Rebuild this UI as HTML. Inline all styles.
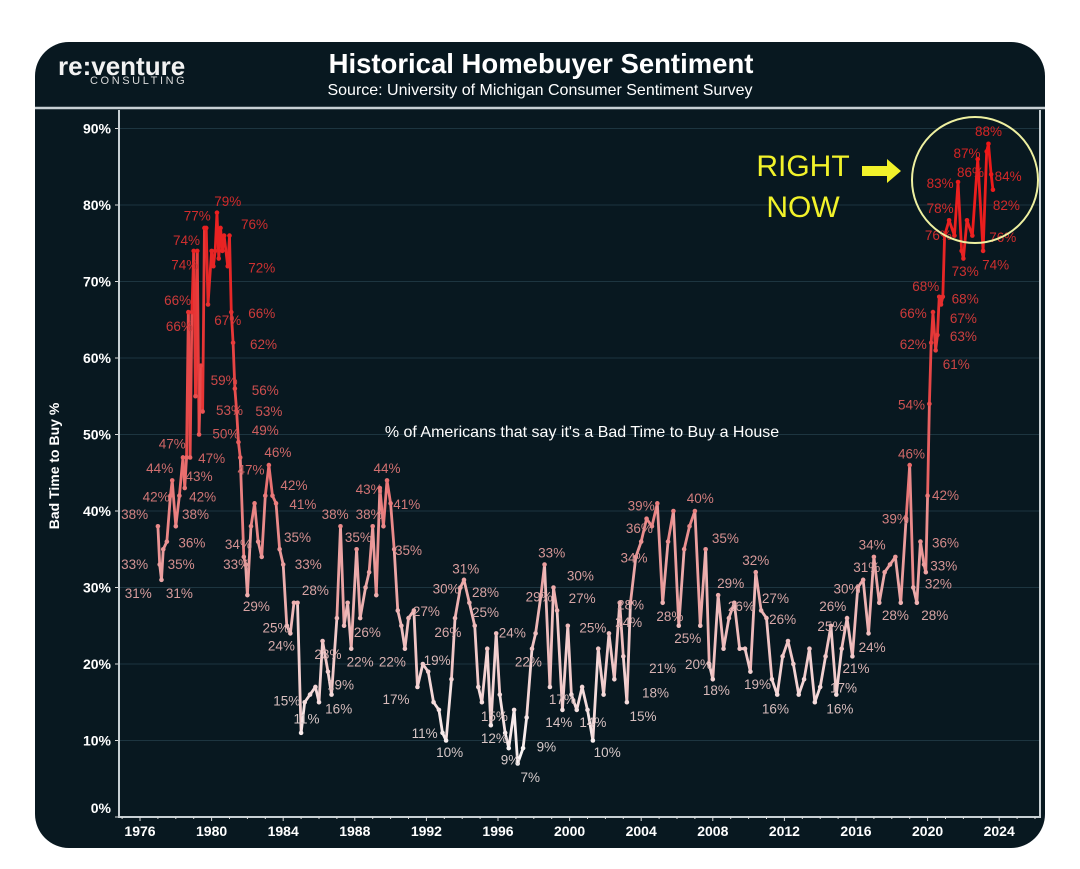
<!DOCTYPE html>
<html><head><meta charset="utf-8">
<style>
html,body{margin:0;padding:0;background:#fff;}
body{width:1080px;height:864px;position:relative;overflow:hidden;font-family:"Liberation Sans",Arial,sans-serif;}
svg text{font-family:"Liberation Sans",Arial,sans-serif;}
</style></head>
<body>
<svg id="chart" width="1080" height="864" viewBox="0 0 1080 864" xmlns="http://www.w3.org/2000/svg">
  <rect x="35" y="42" width="1010" height="806" rx="34" fill="#081820"/>
  <line x1="35" y1="108" x2="1045" y2="108" stroke="#c8d0d4" stroke-width="2.5"/>
  <text x="58" y="75" font-size="26" font-weight="bold" fill="#f2f2f2">re:venture</text>
  <text x="90" y="84" font-size="11" fill="#d8d8d8" letter-spacing="2.6">CONSULTING</text>
  <text x="541" y="73" font-size="27.5" font-weight="bold" fill="#ffffff" text-anchor="middle">Historical Homebuyer Sentiment</text>
  <text x="540" y="95" font-size="16" fill="#ffffff" text-anchor="middle">Source: University of Michigan Consumer Sentiment Survey</text>
  <g id="grid"></g>
  <g id="axes"></g>
  <text transform="translate(59,466) rotate(-90)" font-size="14" font-weight="bold" fill="#ffffff" text-anchor="middle">Bad Time to Buy %</text>
  <text x="582" y="437" font-size="16" fill="#ffffff" text-anchor="middle">% of Americans that say it's a Bad Time to Buy a House</text>
  <g id="series"></g>
  <g id="labels"></g>
  <text x="803" y="176" font-size="30" fill="#f2f22a" text-anchor="middle">RIGHT</text>
  <text x="803" y="217" font-size="30" fill="#f2f22a" text-anchor="middle">NOW</text>
  <polygon points="862,166 887,166 887,159 901,171 887,183 887,176 862,176" fill="#f2f22a"/>
  <ellipse cx="975" cy="180" rx="63" ry="63" fill="none" stroke="#eef0a0" stroke-width="2"/>
</svg>
<script>
const yearTicks=[1976,1980,1984,1988,1992,1996,2000,2004,2008,2012,2016,2020,2024];
const pctTicks=[0,10,20,30,40,50,60,70,80,90];
const years=[
1977.0,1977.1,1977.2,1977.3,1977.5,1977.7,1977.8,1978.0,1978.2,1978.4,
1978.5,1978.6,1978.7,1978.8,1978.9,1979.0,1979.1,1979.2,1979.3,1979.4,
1979.5,1979.6,1979.7,1979.8,1980.0,1980.1,1980.2,1980.3,1980.4,1980.5,
1980.6,1980.7,1980.9,1981.0,1981.1,1981.2,1981.3,1981.4,1981.5,1981.6,
1981.8,1981.9,1982.0,1982.2,1982.4,1982.6,1982.8,1983.0,1983.2,1983.4,
1983.6,1983.8,1984.0,1984.2,1984.4,1984.6,1984.8,1985.0,1985.2,1985.5,
1985.8,1986.0,1986.2,1986.5,1986.7,1987.0,1987.2,1987.4,1987.6,1987.8,
1988.1,1988.3,1988.6,1988.8,1989.0,1989.2,1989.4,1989.6,1989.8,1990.0,
1990.2,1990.4,1990.6,1990.8,1991.0,1991.3,1991.5,1991.8,1992.1,1992.4,
1992.7,1992.9,1993.1,1993.4,1993.6,1993.9,1994.1,1994.4,1994.7,1994.9,
1995.1,1995.4,1995.6,1995.9,1996.1,1996.4,1996.6,1996.9,1997.1,1997.4,
1997.6,1997.9,1998.1,1998.4,1998.6,1998.9,1999.1,1999.3,1999.6,1999.9,
2000.1,2000.4,2000.7,2001.0,2001.3,2001.6,2001.9,2002.2,2002.5,2002.8,
2003.0,2003.2,2003.4,2003.7,2004.0,2004.3,2004.6,2004.9,2005.2,2005.5,
2005.8,2006.1,2006.4,2006.7,2007.0,2007.3,2007.6,2007.8,2008.0,2008.3,
2008.6,2008.9,2009.2,2009.5,2009.8,2010.1,2010.4,2010.7,2011.0,2011.3,
2011.6,2011.9,2012.2,2012.5,2012.8,2013.1,2013.4,2013.7,2014.0,2014.3,
2014.6,2014.9,2015.2,2015.5,2015.8,2016.1,2016.4,2016.7,2017.0,2017.3,
2017.6,2017.9,2018.2,2018.5,2018.8,2019.0,2019.2,2019.4,2019.6,2019.8,
2019.9,2020.0,2020.1,2020.2,2020.3,2020.45,2020.55,2020.65,2020.75,2020.85,
2020.95,2021.2,2021.5,2021.7,2021.9,2022.0,2022.2,2022.5,2022.8,2023.1,
2023.3,2023.4,2023.55,2023.65];
const values=[
38,33,31,35,36,42,44,38,42,47,
43,47,66,47,66,74,55,74,50,59,
53,77,77,67,74,72,74,79,73,77,
74,76,72,76,66,62,56,53,49,47,
34,33,29,38,41,36,34,42,46,42,
41,35,33,25,24,28,28,11,15,16,
17,15,23,19,16,26,38,25,28,22,
35,26,30,32,38,29,43,38,44,41,
35,27,25,22,26,27,17,20,19,15,
14,11,10,18,26,30,31,28,25,17,
15,22,12,24,16,11,9,14,7,9,
13,22,24,29,33,17,30,27,14,25,
16,14,17,14,10,22,16,24,18,28,
21,15,28,34,36,39,38,41,28,36,
40,25,35,38,40,25,35,20,18,29,
22,26,28,22,22,19,32,27,26,18,
16,21,23,20,16,18,22,15,17,21,
25,16,22,26,21,30,31,24,34,28,
32,33,34,28,39,46,30,28,36,33,
32,42,54,62,66,61,63,68,67,68,
76,78,76,83,74,73,78,76,86,74,
87,88,84,82];
const labelYears=[1975.7,1975.7,1975.9,1978.2,1978.3,1978.9,1976.9,1977.1,1979.1,1979.5,1979.3,1977.8,1980.0,1978.1,1978.2,1978.6,1978.5,1979.2,1980.9,1982.4,1982.8,1980.9,1982.8,1982.9,1980.7,1983.0,1981.0,1983.2,1980.8,1983.0,1982.2,1983.7,1984.6,1985.1,1984.8,1981.5,1981.4,1985.4,1982.5,1985.8,1983.6,1983.9,1984.2,1985.3,1986.5,1987.2,1987.1,1986.9,1988.2,1988.7,1988.3,1988.8,1988.8,1989.8,1990.9,1991.0,1990.1,1990.3,1992.0,1992.6,1991.9,1993.3,1993.2,1993.1,1994.2,1995.3,1995.3,1995.8,1995.8,1996.8,1997.7,1996.7,1997.8,1998.7,1999.4,1999.6,1998.3,1999.0,2000.6,2000.7,2001.3,2001.3,2002.1,2003.4,2003.3,2005.2,2004.8,2004.1,2003.6,2003.9,2004.0,2005.6,2007.3,2006.6,2008.7,2009.0,2007.2,2009.6,2008.2,2010.4,2011.5,2011.9,2010.5,2011.5,2014.7,2014.6,2015.3,2015.1,2016.0,2015.5,2016.6,2016.9,2016.9,2018.2,2018.2,2019.1,2021.0,2020.9,2020.6,2020.4,2021.0,2019.1,2019.2,2019.2,2019.9,2022.1,2022.0,2022.0,2021.6,2020.6,2020.7,2020.7,2022.1,2022.4,2022.2,2023.4,2024.5,2024.4,2024.2,2023.8];
const labelPos=[39.6,33.1,29.3,29.3,33.1,35.9,41.9,45.6,39.6,41.9,44.6,48.8,46.9,67.6,64.2,75.4,72.2,78.6,80.5,77.5,71.8,65.0,65.9,61.8,57.1,55.8,53.2,53.1,50.1,50.6,45.4,47.7,43.4,40.9,36.6,35.7,33.1,33.1,27.6,29.7,24.8,22.4,15.2,12.9,21.3,17.3,14.2,39.6,36.6,24.2,20.3,42.9,39.6,45.6,40.9,34.9,20.3,15.4,26.9,20.5,11.0,8.5,24.2,29.9,32.5,29.4,26.8,13.2,10.3,24.1,20.3,7.5,5.2,9.2,12.4,15.4,28.8,34.6,31.6,28.6,24.8,12.4,8.5,27.8,25.5,19.5,16.3,13.2,33.9,37.8,40.7,26.3,41.7,23.4,36.5,30.6,20.0,27.6,16.6,33.6,28.6,25.9,17.4,14.2,27.6,25.0,16.9,14.2,19.5,29.9,32.7,22.2,35.6,26.4,39.0,47.5,35.9,32.9,30.5,26.4,42.1,53.9,61.8,65.9,69.4,67.8,65.2,62.9,59.2,76.1,79.6,82.9,71.4,84.3,86.8,89.7,83.8,80.0,75.8,72.2];
const labelText=[38,33,31,31,35,36,42,44,38,42,43,47,47,66,66,74,74,77,79,76,72,67,66,62,59,56,53,53,50,49,47,46,42,41,35,34,33,33,29,28,25,24,15,11,23,19,16,38,35,26,22,43,38,44,41,35,22,17,27,19,11,10,26,30,31,28,25,15,12,24,22,9,7,9,14,17,29,33,30,27,25,14,10,28,24,21,18,15,34,36,39,28,40,25,35,29,20,26,18,32,27,26,19,16,26,25,17,16,21,30,31,24,34,28,39,46,36,33,32,28,42,54,62,66,68,68,67,63,61,76,78,83,73,86,87,88,84,82,76,74];

const NS='http://www.w3.org/2000/svg';
const X0=119,X1=1040,Y0=817;
function xScale(yr){return 140+(yr-1976)*17.9;}
function yScale(v){return Y0-v*7.65;}
function mix(a,b,t){return a.map((c,i)=>Math.round(c+(b[i]-c)*t));}
function ramp(stops,v){
  for(let i=0;i<stops.length-1;i++){if(v<=stops[i+1][0]){const t=Math.max(0,(v-stops[i][0])/(stops[i+1][0]-stops[i][0]));return `rgb(${mix(stops[i][1],stops[i+1][1],t)})`;}}
  return `rgb(${stops[stops.length-1][1]})`;
}
const lineStops=[[8,[250,245,245]],[30,[236,170,170]],[50,[232,90,90]],[70,[230,40,40]],[90,[240,20,20]]];
const labStops=[[8,[215,205,205]],[30,[215,160,160]],[50,[205,90,90]],[70,[205,50,50]],[90,[215,35,35]]];
function lineColor(v){return ramp(lineStops,v);}
function labelColor(v){return ramp(labStops,v);}
const grid=document.getElementById('grid'),axes=document.getElementById('axes'),series=document.getElementById('series'),labels=document.getElementById('labels');
pctTicks.forEach(p=>{
  const y=yScale(p);
  if(p>0){const g=document.createElementNS(NS,'line');
  
  
  g.setAttribute('x1',X0);g.setAttribute('x2',X1);g.setAttribute('y1',y);g.setAttribute('y2',y);g.setAttribute('stroke','#1d3540');g.setAttribute('stroke-width','1');grid.appendChild(g);}
  const tk=document.createElementNS(NS,'line');
  
  
  tk.setAttribute('x1',X0-4);tk.setAttribute('x2',X0);tk.setAttribute('y1',y);tk.setAttribute('y2',y);tk.setAttribute('stroke','#ddd');axes.appendChild(tk);
  const t=document.createElementNS(NS,'text');
  
  
  t.setAttribute('x',X0-8);t.setAttribute('y',p===0?y-4:y+5);t.setAttribute('text-anchor','end');t.setAttribute('font-size','14');t.setAttribute('font-weight','bold');t.setAttribute('fill','#fff');t.textContent=p+'%';axes.appendChild(t);
});
const ax=document.createElementNS(NS,'path');


ax.setAttribute('d',`M${X0},110 V${Y0} H${X1} V110`);ax.setAttribute('fill','none');ax.setAttribute('stroke','#c8d0d4');ax.setAttribute('stroke-width','2');axes.appendChild(ax);
for(let yr=1975;yr<=2026;yr++){
  const x=xScale(yr);if(x<X0||x>X1)continue;
  const m=document.createElementNS(NS,'line');
  
  
  m.setAttribute('x1',x);m.setAttribute('x2',x);m.setAttribute('y1',Y0);m.setAttribute('y2',Y0+(yr%4===0?4:2));m.setAttribute('stroke','#ddd');axes.appendChild(m);
}
yearTicks.forEach(yr=>{
  const t=document.createElementNS(NS,'text');
  
  
  t.setAttribute('x',xScale(yr));t.setAttribute('y',836);t.setAttribute('text-anchor','middle');t.setAttribute('font-size','14');t.setAttribute('font-weight','bold');t.setAttribute('fill','#fff');t.textContent=yr;axes.appendChild(t);
});
const n=Math.min(years.length,values.length);
for(let i=0;i<n-1;i++){
  const s=document.createElementNS(NS,'line');
  
  
  s.setAttribute('x1',xScale(years[i]));s.setAttribute('y1',yScale(values[i]));s.setAttribute('x2',xScale(years[i+1]));s.setAttribute('y2',yScale(values[i+1]));
  s.setAttribute('stroke',lineColor((values[i]+values[i+1])/2));s.setAttribute('stroke-width','2.8');s.setAttribute('stroke-linecap','round');series.appendChild(s);
}
for(let i=0;i<n;i++){
  const c=document.createElementNS(NS,'circle');
  
  
  c.setAttribute('cx',xScale(years[i]));c.setAttribute('cy',yScale(values[i]));c.setAttribute('r','2.3');c.setAttribute('fill',lineColor(values[i]));series.appendChild(c);
}
for(let i=0;i<labelText.length;i++){
  const t=document.createElementNS(NS,'text');
  
  
  t.setAttribute('x',xScale(labelYears[i]));t.setAttribute('y',yScale(labelPos[i])+5);t.setAttribute('text-anchor','middle');t.setAttribute('font-size','13.5');t.setAttribute('fill',labelColor(labelText[i]));t.textContent=labelText[i]+'%';labels.appendChild(t);
}
</script>
</body></html>
